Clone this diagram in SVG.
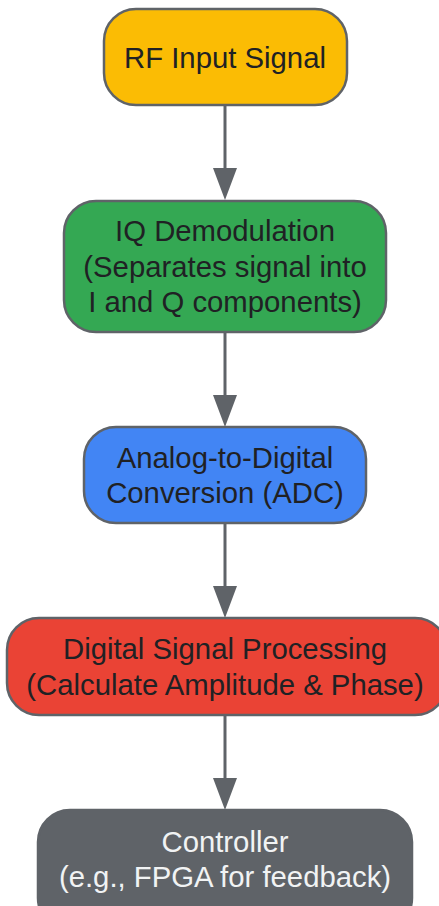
<svg xmlns="http://www.w3.org/2000/svg" width="439" height="906" viewBox="0 0 439 906">
<defs>
<style>
.n{stroke:#5f6368;stroke-width:2.5}
.t{font-family:"Liberation Sans",Arial,sans-serif;font-size:29.3px;fill:#202124;text-anchor:middle}
.w{fill:#f1f3f4}
.c{stroke:#5f6368;stroke-width:3;fill:none}
.h{fill:#5f6368}
</style>
</defs>
<rect width="439" height="906" fill="#ffffff"/>
<g id="connectors">
<line class="c" x1="225" y1="106" x2="225" y2="170"/>
<polygon class="h" points="213,168 237,168 225,200"/>
<line class="c" x1="225" y1="333" x2="225" y2="397"/>
<polygon class="h" points="213,395 237,395 225,427"/>
<line class="c" x1="225" y1="524" x2="225" y2="588"/>
<polygon class="h" points="213,586 237,586 225,618"/>
<line class="c" x1="225" y1="716" x2="225" y2="780"/>
<polygon class="h" points="213,778 237,778 225,810"/>
</g>
<g id="rf">
<rect class="n" x="104" y="9" width="243" height="96" rx="32" fill="#fbbc04"/>
<text class="t" x="225" y="68">RF Input Signal</text>
</g>
<g id="iq">
<rect class="n" x="64" y="201" width="322" height="131" rx="32" fill="#34a853"/>
<text class="t" x="225" y="241">IQ Demodulation</text>
<text class="t" x="225" y="277">(Separates signal into</text>
<text class="t" x="225" y="312">I and Q components)</text>
</g>
<g id="adc">
<rect class="n" x="84" y="427" width="282" height="96" rx="32" fill="#4285f4"/>
<text class="t" x="225" y="468">Analog-to-Digital</text>
<text class="t" x="225" y="503">Conversion (ADC)</text>
</g>
<g id="dsp">
<rect class="n" x="7" y="618" width="440" height="97" rx="32" fill="#ea4335"/>
<text class="t" x="225" y="659">Digital Signal Processing</text>
<text class="t" x="225" y="695">(Calculate Amplitude &amp; Phase)</text>
</g>
<g id="ctrl">
<rect class="n" x="38" y="810" width="374" height="120" rx="32" fill="#5f6368"/>
<text class="t w" x="225" y="852">Controller</text>
<text class="t w" x="225" y="887">(e.g., FPGA for feedback)</text>
</g>
</svg>
